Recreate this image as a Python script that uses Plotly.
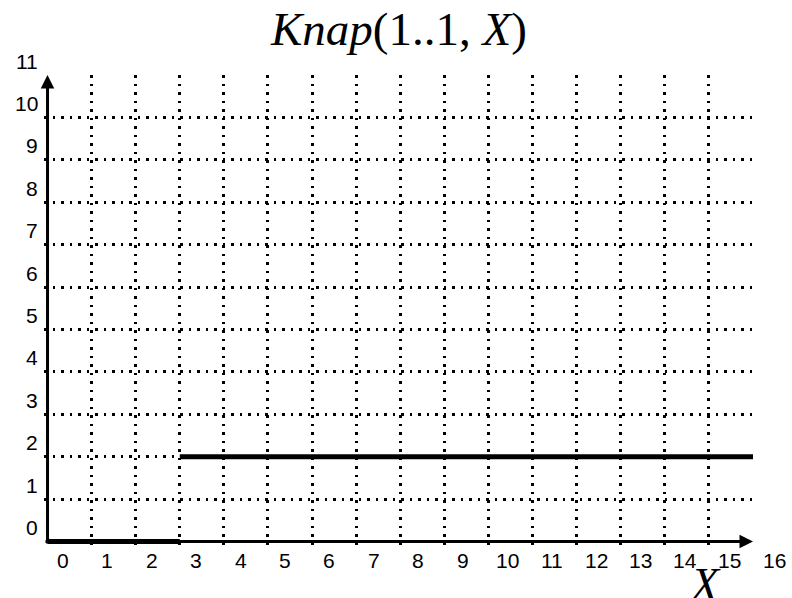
import plotly.graph_objects as go

# Step function Knap(1..1, X): value on each interval between breakpoints
breakpoints = [0, 3, 16]
step_values = [0, 2]

x_tick_labels = [str(k) for k in range(0, 17)]
y_tick_labels = [str(k) for k in range(0, 12)]
x_grid = list(range(1, 17))
y_grid = list(range(1, 12))

X_MAX = 16
Y_MAX = 11

# one horizontal segment per interval, no vertical risers
seg_x, seg_y = [], []
for i, v in enumerate(step_values):
    seg_x += [breakpoints[i], breakpoints[i + 1], None]
    seg_y += [v, v, None]

fig = go.Figure()
fig.add_trace(go.Scatter(
    x=seg_x, y=seg_y, mode="lines",
    line=dict(color="black", width=5),
    hoverinfo="skip", showlegend=False,
))

dot_grid = dict(showgrid=True, gridcolor="black", gridwidth=2.5,
                griddash="2.5px,6px", ticks="")

fig.update_xaxes(
    range=[-0.08, X_MAX], showgrid=False, zeroline=False, showline=False,
    showticklabels=False,
    minor=dict(tickmode="array", tickvals=x_grid, **dot_grid),
)
fig.update_yaxes(
    range=[-0.08, Y_MAX], showgrid=False, zeroline=False, showline=False,
    showticklabels=False,
    minor=dict(tickmode="array", tickvals=y_grid, **dot_grid),
)

tick_font = dict(family="Liberation Sans, Arial, sans-serif", size=21,
                 color="black")
annotations = []
# x tick labels: set a little to the right of their grid lines, below the axis
for t in x_tick_labels:
    k = int(t)
    annotations.append(dict(
        text=t, xref="x", yref="paper", x=k, y=0, xshift=15 + 0.4 * k,
        yshift=-15, xanchor="center", yanchor="middle", showarrow=False,
        font=tick_font))
# y tick labels: right-aligned left of the axis, a little above their lines
for t in y_tick_labels:
    k = int(t)
    annotations.append(dict(
        text=t, xref="paper", yref="y", x=0, y=k, xshift=-4, yshift=14,
        xanchor="right", yanchor="middle", showarrow=False, font=tick_font))

arrow = dict(text="", showarrow=True, arrowhead=2, arrowsize=0.9,
             arrowwidth=3, arrowcolor="black", axref="x", ayref="y",
             xref="x", yref="y", standoff=0, startstandoff=0)
annotations += [
    dict(x=0, y=Y_MAX, ax=0, ay=-0.08, **arrow),
    dict(x=X_MAX, y=0, ax=-0.08, ay=0, **arrow),
    dict(text="<i>Knap</i>(1..1, <i>X</i>)", xref="paper", yref="paper",
         x=0.5, y=1, yanchor="bottom", yshift=18, showarrow=False,
         font=dict(family="Liberation Serif, Times New Roman, serif",
                   size=47, color="black")),
    dict(text="<i>X</i>", xref="paper", yref="paper",
         x=0.958, y=0, yanchor="top", yshift=-12, showarrow=False,
         font=dict(family="Liberation Serif, Times New Roman, serif",
                   size=46, color="black")),
]

fig.update_layout(
    width=792, height=598, autosize=False,
    margin=dict(l=44, r=39, t=75, b=53),
    paper_bgcolor="white", plot_bgcolor="white",
    font=dict(family="Liberation Sans, Arial, sans-serif", color="black"),
    annotations=annotations,
)

fig.write_html("out.html")
